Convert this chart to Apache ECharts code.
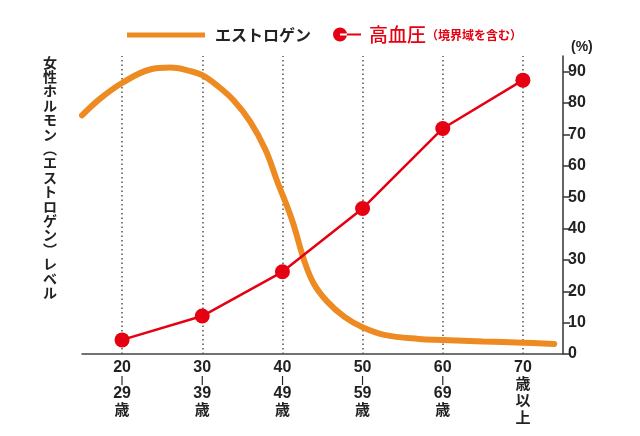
<!DOCTYPE html>
<html>
<head>
<meta charset="utf-8">
<script src="https://cdn.jsdelivr.net/npm/echarts@6/dist/echarts.min.js"></script>
<style>
  html, body { margin: 0; padding: 0; background: #fff; }
  #chart { width: 640px; height: 436px; }
</style>
</head>
<body>
<div id="chart"></div>
<script>
    // 年代（カテゴリ）
    var ageGroups = ['20-29歳', '30-39歳', '40-49歳', '50-59歳', '60-69歳', '70歳以上'];
    // 高血圧（境界域を含む） %
    var hypertension = [4.5, 12.1, 26.2, 46.4, 71.9, 87.3];
    // エストロゲン曲線：年齢と相対レベル
    var estrogenAge = [20, 22.3, 25, 28.5, 31, 33.5, 35, 36.8, 38.9, 41, 42.9, 44.3, 46.2, 47.7, 48.9, 50.6, 52.7, 55, 57.7, 62, 65, 70, 75, 78.9];
    var estrogenLevel = [76.1, 81.5, 86.4, 90.7, 91.3, 90.2, 88.9, 85.7, 80.9, 74, 65, 55.4, 42.7, 29.9, 22.5, 16.7, 11.9, 8.5, 6.1, 4.8, 4.5, 4.0, 3.6, 3.2];
    // 右軸の目盛
    var yTicks = [0, 10, 20, 30, 40, 50, 60, 70, 80, 90];

    var orange = '#EE8A22';
    var red = '#E50012';
    var jpFont = '"Noto Sans CJK JP", "Liberation Sans", sans-serif';
    var numFont = '"Liberation Sans", "Noto Sans CJK JP", sans-serif';

    var estrogenData = estrogenAge.map(function (a, i) { return [a, estrogenLevel[i]]; });

    var leftTitle = '女性ホルモン︵エストロゲン︶レベル'.split('').join('\n');

    var myChart = echarts.init(document.getElementById('chart'));
    myChart.setOption({
        backgroundColor: '#fff',
        animation: false,
        grid: { left: 82, right: 77, top: 56, bottom: 82 },
        legend: [
            {
                data: ['エストロゲン'],
                left: 122, top: 22,
                icon: 'rect',
                itemWidth: 78, itemHeight: 5,
                textStyle: { fontSize: 16, fontWeight: 'bold', color: '#222', fontFamily: jpFont, padding: [0, 0, 0, 5] }
            },
            {
                data: ['高血圧'],
                left: 328, top: 20,
                icon: 'path://M0,7a7,7 0 1,0 14,0a7,7 0 1,0 -14,0zM7,6h21v2h-21z',
                itemWidth: 28, itemHeight: 14,
                formatter: function () { return '{a|高血圧}{b|（境界域を含む）}'; },
                textStyle: {
                    color: red, fontFamily: jpFont, padding: [0, 0, 0, 3],
                    rich: {
                        a: { fontSize: 19, fontWeight: 500, color: red, fontFamily: jpFont },
                        b: { fontSize: 12, fontWeight: 'bold', color: red, fontFamily: jpFont, padding: [2, 0, 0, 0] }
                    }
                }
            }
        ],
        graphic: [
            {
                type: 'text',
                left: 43, top: 55,
                style: {
                    text: leftTitle,
                    fontSize: 14, fontWeight: 'bold', lineHeight: 14.4,
                    fill: '#222', fontFamily: jpFont, align: 'center'
                }
            }
        ],
        xAxis: [
            {
                type: 'category',
                data: ageGroups,
                boundaryGap: true,
                axisLine: { lineStyle: { color: '#444', width: 1.5 } },
                axisTick: {
                    length: 4, lineStyle: { color: '#444', width: 1.5 },
                    interval: function (index) { return index !== 0; }
                },
                axisLabel: {
                    margin: 6,
                    formatter: function (v) {
                        if (v.indexOf('-') > -1) {
                            var p = v.replace('歳', '').split('-');
                            return '{n|' + p[0] + '}\n{d||}\n{n|' + p[1] + '}\n{k|歳}';
                        }
                        return '{n|70}\n{k|歳}\n{k|以}\n{k|上}';
                    },
                    rich: {
                        n: { fontSize: 16, fontWeight: 'bold', lineHeight: 15, color: '#222', fontFamily: numFont },
                        d: { fontSize: 9, fontWeight: 'bold', lineHeight: 11, color: '#222', fontFamily: numFont },
                        k: { fontSize: 15, fontWeight: 'bold', lineHeight: 17, color: '#222', fontFamily: jpFont }
                    }
                },
                splitLine: { show: false }
            },
            {
                type: 'value',
                min: 20, max: 80,
                show: false
            }
        ],
        yAxis: [
            {
                type: 'value',
                position: 'right',
                min: 0, max: 95,
                interval: 5,
                name: '(%)',
                nameLocation: 'end',
                nameGap: 2,
                nameTextStyle: { fontSize: 14, fontWeight: 'bold', color: '#222', fontFamily: numFont, align: 'left', padding: [0, 0, 0, 8] },
                axisLine: { show: true, lineStyle: { color: '#333', width: 1.5 } },
                axisTick: { show: true, length: 7, lineStyle: { color: '#333', width: 1.5 }, customValues: yTicks },
                axisLabel: {
                    margin: 5, fontSize: 16, fontWeight: 'bold', color: '#222', fontFamily: numFont,
                    customValues: yTicks
                },
                splitLine: { show: false }
            }
        ],
        series: [
            {
                name: 'エストロゲン',
                type: 'line',
                xAxisIndex: 1,
                data: estrogenData,
                smooth: 0.4,
                showSymbol: false,
                symbol: 'none',
                itemStyle: { color: orange },
                lineStyle: { color: orange, width: 6, cap: 'round' },
                z: 2
            },
            {
                name: '高血圧',
                type: 'line',
                xAxisIndex: 0,
                data: hypertension,
                symbol: 'circle',
                symbolSize: 15,
                itemStyle: { color: red },
                lineStyle: { color: red, width: 2.5 },
                z: 3,
                markLine: {
                    silent: true,
                    symbol: 'none',
                    label: { show: false },
                    lineStyle: { color: '#555', type: [1.5, 3], width: 1.5 },
                    data: ageGroups.map(function (c) { return { xAxis: c }; }),
                    z: 1
                }
            }
        ]
    });
</script>
</body>
</html>
